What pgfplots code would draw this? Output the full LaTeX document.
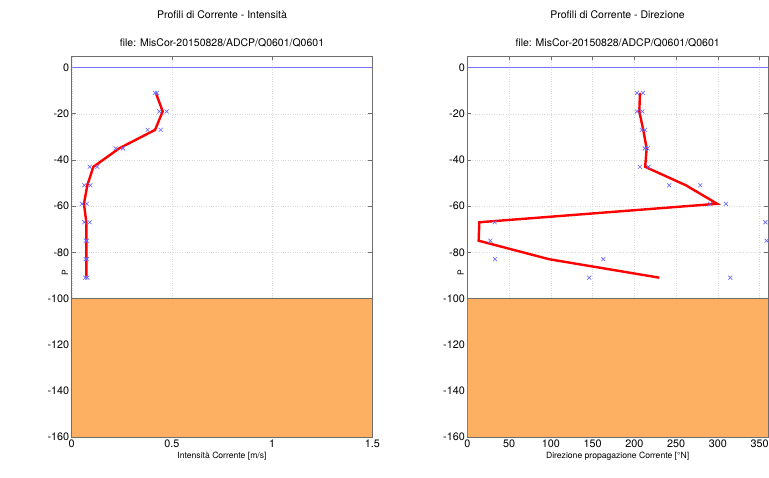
\documentclass[border=0pt]{standalone}
\usepackage{pgfplots}
\pgfplotsset{compat=1.18}
\usepackage{fontspec}
\setmainfont{TeX Gyre Heros}
\definecolor{patchor}{RGB}{254,176,98}
\definecolor{mk}{RGB}{100,100,255}
\definecolor{axg}{RGB}{110,110,110}
\pgfplotsset{
  myax/.style={
    scale only axis, anchor=south west,
    width=300.6pt, height=381pt,
    ymin=-160, ymax=5,
    ytick={-160,-140,...,0},
    grid=major,
    grid style={dotted, gray!30},
    tick align=inside,
    major tick length=4pt,
    axis line style={axg, line width=0.6pt},
    tick style={axg, line width=0.6pt},
    /pgf/number format/assume math mode=true,
    ticklabel style={font=\fontsize{10.8}{13}\selectfont},
    yticklabel style={xshift=1pt},
    xticklabel style={yshift=1pt},
    label style={font=\fontsize{8.6}{10}\selectfont},
    ylabel={P},
    clip=true,
  }
}
\begin{document}
\begin{tikzpicture}[x=1pt,y=1pt]
\useasboundingbox (0,0) rectangle (769,478);
% ---------------- left
\begin{axis}[myax, at={(71.7pt,41pt)},
  xmin=0, xmax=1.5, xtick={0,0.5,1,1.5},
  xlabel={Intensità Corrente [m/s]},
  xlabel style={yshift=2pt},
  ylabel style={at={(rel axis cs:0,0.44)}, xshift=-3pt}]
\addplot[blue!55, line width=1.1pt, mark=none] coordinates {(0,0) (0.75,0) (1.5,0)};
\addplot[fill=patchor, draw=axg, line width=0.6pt] coordinates {(0,-160) (1.5,-160) (1.5,-100) (0,-100)} -- cycle;
\addplot[only marks, mark=x, mark size=2.8pt, mk, mark options={line width=0.6pt}] coordinates {
(0.415,-11) (0.425,-11)
(0.437,-19) (0.474,-19)
(0.379,-27) (0.444,-27)
(0.219,-35) (0.256,-35)
(0.090,-43) (0.128,-43)
(0.063,-51) (0.093,-51)
(0.051,-59) (0.075,-59)
(0.063,-67) (0.090,-67)
(0.070,-75) (0.076,-75)
(0.070,-83) (0.076,-83)
(0.068,-91) (0.078,-91)
};
\addplot[red, line width=2.4pt] coordinates {
(0.420,-11) (0.454,-19) (0.416,-27) (0.237,-35) (0.108,-43) (0.078,-51) (0.061,-59) (0.073,-67) (0.073,-75) (0.073,-83) (0.073,-91)
};
\end{axis}
\node[font=\fontsize{10.5}{13}\selectfont] at (222,463) {Profili di Corrente - Intensità};
\node[font=\fontsize{10.5}{13}\selectfont] at (222,435) {file: MisCor-20150828/ADCP/Q0601/Q0601};
% ---------------- right
\begin{axis}[myax, at={(467.3pt,41pt)},
  xmin=0, xmax=360, xtick={0,50,...,350},
  xlabel={Direzione propagazione Corrente [°N]},
  xlabel style={yshift=2pt},
  ylabel style={at={(rel axis cs:0,0.44)}, xshift=-3pt}]
\addplot[blue!55, line width=1.1pt, mark=none] coordinates {(0,0) (180,0) (360,0)};
\addplot[fill=patchor, draw=axg, line width=0.6pt] coordinates {(0,-160) (360,-160) (360,-100) (0,-100)} -- cycle;
\addplot[only marks, mark=x, mark size=2.8pt, mk, mark options={line width=0.6pt}] coordinates {
(203.2,-11) (210.4,-11)
(203.2,-19) (209.6,-19)
(209.0,-27) (213.0,-27)
(212.5,-35) (216.0,-35)
(206.7,-43) (217.0,-43)
(241.8,-51) (279.0,-51)
(290.6,-59) (309.7,-59)
(32.8,-67) (357.0,-67)
(27.6,-75) (358.4,-75)
(33.2,-83) (162.9,-83)
(146.0,-91) (315.0,-91)
};
\addplot[red, line width=2.4pt] coordinates {
(206.8,-11) (206.0,-19) (210.7,-27) (214.8,-35) (213.0,-43) (261.8,-51) (299.3,-59) (14.4,-67) (13.6,-75) (97.8,-83) (229.9,-91)
};
\end{axis}
\node[font=\fontsize{10.5}{13}\selectfont] at (617.6,463) {Profili di Corrente - Direzione};
\node[font=\fontsize{10.5}{13}\selectfont] at (617.6,435) {file: MisCor-20150828/ADCP/Q0601/Q0601};
\end{tikzpicture}
\end{document}
